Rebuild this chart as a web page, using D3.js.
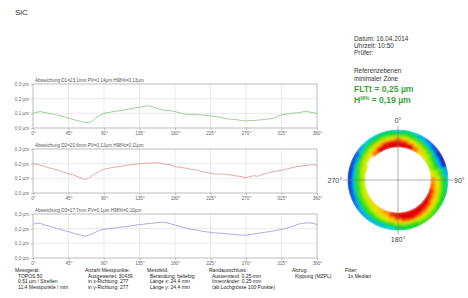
<!DOCTYPE html>
<html>
<head>
<meta charset="utf-8">
<script src="https://cdn.jsdelivr.net/npm/d3@7"></script>
<style>
  body { margin: 0; background: #fff; }
  svg { font-family: "Liberation Sans", Arial, sans-serif; }
</style>
</head>
<body>
<svg id="chart" width="468" height="298"></svg>
<script>
// ---- data ----------------------------------------------------------------
const angleTicks = [0, 45, 90, 135, 180, 225, 270, 315, 360];
const valueTicks = [0, 0.1, 0.2, 0.3];

// profile values every 5 degrees, 0..360
const profileD1 = [0.100,0.108,0.112,0.105,0.100,0.095,0.088,0.083,0.075,0.068,0.060,0.052,0.045,0.038,0.036,0.045,0.070,0.088,
  0.100,0.105,0.110,0.115,0.118,0.122,0.128,0.133,0.138,0.142,0.146,0.152,0.145,0.138,0.128,0.122,0.120,0.117,
  0.112,0.105,0.097,0.093,0.092,0.094,0.091,0.088,0.085,0.082,0.079,0.075,0.070,0.064,0.060,0.058,0.055,0.050,
  0.048,0.052,0.050,0.054,0.056,0.060,0.062,0.068,0.080,0.090,0.094,0.097,0.101,0.104,0.108,0.113,0.110,0.104,0.100];
const profileD2 = [0.200,0.195,0.188,0.182,0.172,0.165,0.158,0.150,0.140,0.133,0.125,0.115,0.105,0.092,0.100,0.118,0.135,0.150,
  0.162,0.168,0.173,0.178,0.180,0.186,0.190,0.194,0.196,0.199,0.202,0.205,0.203,0.207,0.204,0.198,0.196,0.190,
  0.180,0.176,0.172,0.168,0.162,0.158,0.152,0.145,0.140,0.135,0.131,0.128,0.130,0.126,0.123,0.118,0.115,0.110,
  0.105,0.112,0.118,0.114,0.125,0.133,0.140,0.146,0.150,0.155,0.162,0.168,0.175,0.180,0.184,0.188,0.190,0.192,0.188];
const profileD3 = [0.230,0.238,0.235,0.225,0.218,0.210,0.202,0.195,0.186,0.180,0.172,0.162,0.158,0.148,0.155,0.165,0.178,0.190,
  0.196,0.200,0.202,0.206,0.210,0.212,0.215,0.220,0.224,0.228,0.230,0.234,0.236,0.240,0.242,0.244,0.240,0.232,
  0.225,0.218,0.210,0.202,0.196,0.192,0.188,0.182,0.178,0.175,0.172,0.170,0.168,0.165,0.163,0.160,0.158,0.156,
  0.155,0.160,0.165,0.168,0.172,0.176,0.180,0.185,0.190,0.195,0.200,0.210,0.218,0.228,0.235,0.238,0.240,0.236,0.228];

const profiles = [
  { title: "Abweichung D1=23,1mm PV=0,14µm H98%=0,13µm", values: profileD1, color: "#86c386" },
  { title: "Abweichung D2=20,6mm PV=0,12µm H98%=0,11µm", values: profileD2, color: "#d89494" },
  { title: "Abweichung D3=17,7mm PV=0,1µm H98%=0,10µm", values: profileD3, color: "#9898da" }
];

// height map: rings from inside to outside, sectors every 10 degrees (null = no data)
const mapRings = [
  [0.235,0.24,0.225,0.205,0.19,0.175,0.16,0.155,0.18,0.20,0.205,0.215,0.22,0.23,0.235,0.24,0.245,0.245,0.23,0.215,0.20,0.195,0.185,0.18,0.175,0.17,0.165,0.16,0.165,0.175,null,null,0.205,0.225,0.24,0.245],
  [0.23,0.235,0.22,0.20,0.185,0.17,0.155,0.15,0.175,0.195,0.20,0.21,0.215,0.225,0.23,0.235,0.24,0.24,0.225,0.21,0.195,0.19,0.18,0.175,0.17,0.165,0.16,0.155,0.16,0.17,0.175,0.19,0.20,0.22,0.235,0.24],
  [0.215,0.21,0.195,0.18,0.16,0.15,0.13,0.125,0.155,0.18,0.19,0.195,0.20,0.21,0.215,0.22,0.225,0.22,0.21,0.195,0.18,0.17,0.165,0.155,0.15,0.145,0.14,0.135,0.14,0.15,0.16,0.17,0.18,0.195,0.21,0.215],
  [0.20,0.185,0.17,0.155,0.14,0.125,0.10,0.10,0.14,0.16,0.175,0.18,0.19,0.195,0.20,0.205,0.21,0.205,0.19,0.18,0.165,0.155,0.145,0.135,0.13,0.125,0.115,0.11,0.115,0.13,0.14,0.15,0.16,0.175,0.185,0.19],
  [0.15,0.15,0.135,0.12,0.105,0.09,0.07,0.07,0.11,0.13,0.14,0.15,0.16,0.17,0.175,0.175,0.17,0.165,0.15,0.135,0.13,0.12,0.115,0.11,0.10,0.09,0.085,0.08,0.08,0.09,0.10,0.115,0.13,0.14,0.15,0.15],
  [0.10,0.11,0.10,0.085,0.07,0.055,0.04,0.04,0.08,0.10,0.11,0.12,0.13,0.14,0.15,0.145,0.125,0.12,0.11,0.095,0.09,0.09,0.085,0.08,0.07,0.06,0.055,0.05,0.05,0.055,0.06,0.08,0.095,0.10,0.11,0.11],
  [0.08,0.09,0.08,0.065,0.05,0.035,0.025,0.025,0.06,0.08,0.09,0.10,0.11,0.12,0.13,0.125,0.105,0.10,0.09,0.075,0.07,0.07,0.065,0.06,0.05,0.04,0.035,0.03,0.03,0.035,0.04,0.06,0.075,0.08,0.09,0.09]
];
const polarLabels = ["0°", "90°", "180°", "270°"];

const infoLines = [
  "Datum: 16.04.2014",
  "Uhrzeit: 10:50",
  "Prüfer:",
  "Referenzebenen",
  "minimaler Zone"
];

const footer = [
  { head: "Messgerät:", lines: ["TOPOS 50", "0,51 µm / Streifen", "11,4 Messpunkte / mm"] },
  { head: "Anzahl Messpunkte:", lines: ["Ausgewertet: 30439", "in x-Richtung: 277", "in y-Richtung: 277"] },
  { head: "Messfeld:", lines: ["Berandung: beliebig", "Länge x: 24,4 mm", "Länge y: 24,4 mm"] },
  { head: "Randausschluss:", lines: ["Aussenrand: 0,25 mm", "Innenränder: 0,25 mm", "(ab Lochgrösse 100 Punkte)"] },
  { head: "Abzug:", lines: ["Kippung (MZPL)"] },
  { head: "Filter:", lines: ["1x Median"] }
];

// ---- drawing ---------------------------------------------------------------
const svg = d3.select("#chart");

svg.append("text")
  .attr("x", 15).attr("y", 15)
  .attr("font-size", 8).attr("fill", "#333")
  .text("SiC");

// profile panels
const x = d3.scaleLinear().domain([0, 360]).range([33, 317]);
const panelTops = [84, 149, 214];
const panelH = 44;

profiles.forEach((p, i) => {
  const top = panelTops[i];
  const y = d3.scaleLinear().domain([0, 0.3]).range([top + panelH, top]);
  const g = svg.append("g");

  // grid
  g.selectAll("line.v").data(angleTicks.slice(1, -1)).join("line")
    .attr("x1", d => x(d)).attr("x2", d => x(d))
    .attr("y1", top).attr("y2", top + panelH)
    .attr("stroke", "#dcdcdc").attr("stroke-width", 0.6);
  g.selectAll("line.h").data([0.1, 0.2]).join("line")
    .attr("x1", x(0)).attr("x2", x(360))
    .attr("y1", d => y(d)).attr("y2", d => y(d))
    .attr("stroke", "#dcdcdc").attr("stroke-width", 0.6);

  // axes
  const yAxis = d3.axisLeft(y).tickValues(valueTicks).tickSize(2).tickPadding(2)
    .tickFormat(d => d3.format(".1f")(d).replace(".", ",") + " µm");
  const ya = g.append("g").attr("transform", `translate(${x(0)},0)`).call(yAxis);
  const xAxis = d3.axisBottom(x).tickValues(angleTicks).tickSize(2).tickPadding(2)
    .tickFormat(d => d + "°");
  const xa = g.append("g").attr("transform", `translate(0,${top + panelH})`).call(xAxis);
  [ya, xa].forEach(a => {
    a.select(".domain").remove();
    a.selectAll("line").attr("stroke", "#999").attr("stroke-width", 0.6);
    a.selectAll("text").attr("font-size", 4.6).attr("fill", "#666");
  });

  g.append("rect")
    .attr("x", x(0)).attr("y", top)
    .attr("width", x(360) - x(0)).attr("height", panelH)
    .attr("fill", "none").attr("stroke", "#a0a0a0").attr("stroke-width", 0.7);

  g.append("text")
    .attr("x", x(0) + 2).attr("y", top - 2)
    .attr("font-size", 4.6).attr("fill", "#555")
    .text(p.title);

  const line = d3.line()
    .x((d, k) => x(k * 5))
    .y(d => y(d));
  g.append("path")
    .datum(p.values)
    .attr("d", line)
    .attr("fill", "none")
    .attr("stroke", p.color)
    .attr("stroke-width", 0.8);
});

// right info block
svg.append("g").selectAll("text").data(infoLines).join("text")
  .attr("x", 354)
  .attr("y", (d, i) => [41, 47.5, 54.5, 73, 81][i])
  .attr("font-size", 6.4).attr("fill", "#333")
  .text(d => d);

svg.append("text")
  .attr("x", 354).attr("y", 92)
  .attr("font-size", 8.6).attr("font-weight", "bold").attr("fill", "#3aa53a")
  .text("FLTt = 0,25 µm");
const h = svg.append("text")
  .attr("x", 354).attr("y", 102.5)
  .attr("font-size", 8.6).attr("font-weight", "bold").attr("fill", "#3aa53a");
h.append("tspan").text("H");
h.append("tspan").attr("font-size", 4.5).attr("dy", -3).text("98%");
h.append("tspan").attr("dy", 3).text(" = 0,19 µm");

// polar height map
const cx = 398, cy = 180;
const rInner = 33, rOuter = 50.5;
const ringStep = (rOuter - rInner) / mapRings.length;
const color = d3.scaleLinear()
  .domain([0.025, 0.05, 0.075, 0.10, 0.135, 0.165, 0.19, 0.205, 0.22])
  .range(["#1c1cb0", "#0064ff", "#00d2e6", "#00d23c", "#50e000", "#c8f000", "#ffd200", "#ff6400", "#e00000"])
  .clamp(true);

const defs = svg.append("defs");
defs.append("filter").attr("id", "soft")
  .append("feGaussianBlur").attr("stdDeviation", 1.1);
defs.append("clipPath").attr("id", "ring")
  .append("path")
  .attr("transform", `translate(${cx},${cy})`)
  .attr("d", d3.arc()({ innerRadius: rInner - 0.5, outerRadius: rOuter, startAngle: 0, endAngle: 2 * Math.PI }));

const cells = [];
mapRings.forEach((ring, ri) => ring.forEach((v, si) => {
  if (v !== null) cells.push({ ri, si, v });
}));
const arc = d3.arc()
  .innerRadius(d => rInner + d.ri * ringStep - 0.3)
  .outerRadius(d => rInner + (d.ri + 1) * ringStep + 0.3)
  .startAngle(d => (d.si * 10 - 5.3) * Math.PI / 180)
  .endAngle(d => (d.si * 10 + 5.3) * Math.PI / 180);

svg.append("g").attr("clip-path", "url(#ring)")
  .append("g").attr("filter", "url(#soft)")
  .attr("transform", `translate(${cx},${cy})`)
  .selectAll("path").data(cells).join("path")
  .attr("d", arc)
  .attr("fill", d => color(d.v));

// crosshair and labels
const cross = svg.append("g").attr("stroke", "#777").attr("stroke-width", 0.6);
cross.append("line").attr("x1", cx).attr("x2", cx).attr("y1", cy - 54).attr("y2", cy + 54);
cross.append("line").attr("x1", cx - 55).attr("x2", cx + 55).attr("y1", cy).attr("y2", cy);

const lbl = svg.append("g").attr("font-size", 7).attr("fill", "#444");
lbl.append("text").attr("x", cx).attr("y", cy - 57).attr("text-anchor", "middle").text(polarLabels[0]);
lbl.append("text").attr("x", cx + 56).attr("y", cy + 2.5).text(polarLabels[1]);
lbl.append("text").attr("x", cx).attr("y", cy + 62).attr("text-anchor", "middle").text(polarLabels[2]);
lbl.append("text").attr("x", cx - 56).attr("y", cy + 2.5).attr("text-anchor", "end").text(polarLabels[3]);

// footer
const colX = [15, 85, 147, 209, 292, 345];
footer.forEach((c, i) => {
  const g = svg.append("g").attr("font-size", 5).attr("fill", "#222");
  g.append("text").attr("x", colX[i]).attr("y", 271.5).text(c.head);
  c.lines.forEach((t, k) => {
    g.append("text").attr("x", colX[i] + 3).attr("y", 277.5 + k * 5.6).text(t);
  });
});
</script>
</body>
</html>
